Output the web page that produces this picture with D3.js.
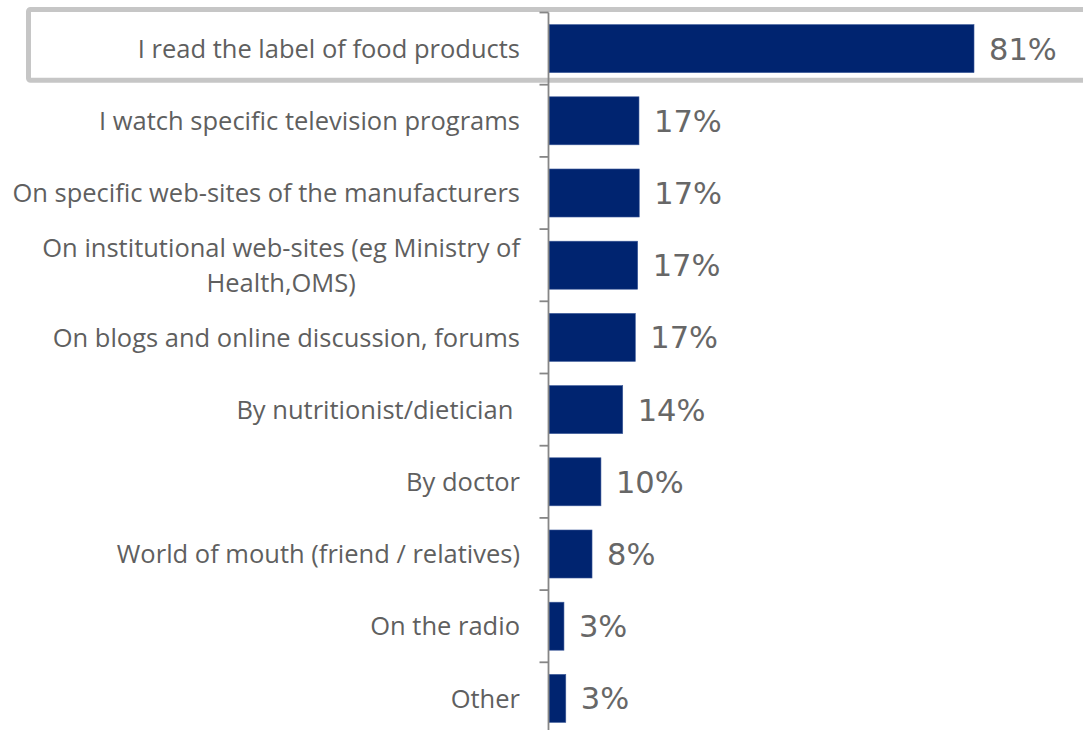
<!DOCTYPE html>
<html>
<head>
<meta charset="utf-8">
<script src="https://cdn.jsdelivr.net/npm/d3@7"></script>
<style>
  html, body { margin: 0; padding: 0; background: #ffffff; }
  svg { display: block; }
  text { white-space: pre; }
</style>
</head>
<body>
<svg id="chart" width="1083" height="730"></svg>
<script>
// ---- data ----
const categories = [
  "I read the label of food products",
  "I watch specific television programs",
  "On specific web-sites of the manufacturers",
  "On institutional web-sites (eg Ministry of|Health,OMS)",
  "On blogs and online discussion, forums",
  "By nutritionist/dietician ",
  "By doctor",
  "World of mouth (friend / relatives)",
  "On the radio",
  "Other"
];
const values = [81, 17.15, 17.2, 16.9, 16.45, 14.05, 9.9, 8.2, 2.85, 3.2];
const valueLabels = ["81%", "17%", "17%", "17%", "17%", "14%", "10%", "8%", "3%", "3%"];
const highlighted = ["I read the label of food products"];

// ---- layout ----
const svg = d3.select("#chart");
const axisX = 548.5;
const x = d3.scaleLinear().domain([0, 100]).range([549, 1073.7]);
const y = d3.scaleBand()
  .domain(categories)
  .range([12.5, 734.5])
  .paddingInner(0.335)
  .paddingOuter(0.1675);
const step = y.step();
const barColor = "#002470";
const textColor = "#5f5f5f";
const valueColor = "#676767";

// highlight box
highlighted.forEach(c => {
  const top = y(c) - y.paddingInner() * step / 2;
  svg.append("rect")
    .attr("x", 28.5)
    .attr("y", top - 3)
    .attr("width", 1100)
    .attr("height", step - 1.5)
    .attr("rx", 2)
    .attr("fill", "none")
    .attr("stroke", "#c6c6c6")
    .attr("stroke-width", 5);
});

// bars
svg.append("g").selectAll("rect")
  .data(categories)
  .join("rect")
  .attr("x", x(0))
  .attr("y", d => y(d))
  .attr("width", (d, i) => x(values[i]) - x(0))
  .attr("height", y.bandwidth())
  .attr("fill", barColor)
  .attr("stroke", "#3d5a9a")
  .attr("stroke-width", 0.6);

// axis line + ticks at band boundaries
const boundaries = categories.map(c => y(c) - y.paddingInner() * step / 2);
boundaries.push(boundaries[boundaries.length - 1] + step);
const axisG = svg.append("g");
axisG.append("line")
  .attr("x1", axisX).attr("x2", axisX)
  .attr("y1", boundaries[0]).attr("y2", 730)
  .attr("stroke", "#868686").attr("stroke-width", 1.8);
axisG.selectAll("line.tick")
  .data(boundaries)
  .join("line")
  .attr("class", "tick")
  .attr("x1", axisX - 9).attr("x2", axisX)
  .attr("y1", d => d).attr("y2", d => d)
  .attr("stroke", "#868686").attr("stroke-width", 1.8);

// category labels
const catG = svg.append("g")
  .attr("font-family", "'Open Sans', sans-serif")
  .attr("font-size", 25.5)
  .attr("fill", textColor);
categories.forEach(c => {
  const lines = c.split("|");
  const cy = y(c) + y.bandwidth() / 2;
  const lineH = 35;
  const t = catG.append("text")
    .attr("text-anchor", "end")
    .attr("y", cy - (lines.length - 1) * lineH / 2)
    .attr("dy", "0.36em");
  if (lines.length === 1) {
    t.attr("x", 520).text(lines[0]);
  } else {
    const tmp = catG.append("text").text(lines[0]);
    const w0 = tmp.node().getComputedTextLength();
    tmp.remove();
    const center = 520 - w0 / 2;
    t.attr("text-anchor", "middle");
    lines.forEach((ln, k) => {
      t.append("tspan")
        .attr("x", center)
        .attr("dy", k === 0 ? "0.36em" : lineH)
        .text(ln);
    });
    t.attr("dy", null);
  }
});

// value labels
svg.append("g")
  .attr("font-family", "'DejaVu Sans', Verdana, sans-serif")
  .attr("font-size", 30.5)
  .attr("fill", valueColor)
  .selectAll("text")
  .data(categories)
  .join("text")
  .attr("x", (d, i) => x(values[i]) + 15)
  .attr("y", d => y(d) + y.bandwidth() / 2)
  .attr("dy", "0.36em")
  .text((d, i) => valueLabels[i]);
</script>
</body>
</html>
